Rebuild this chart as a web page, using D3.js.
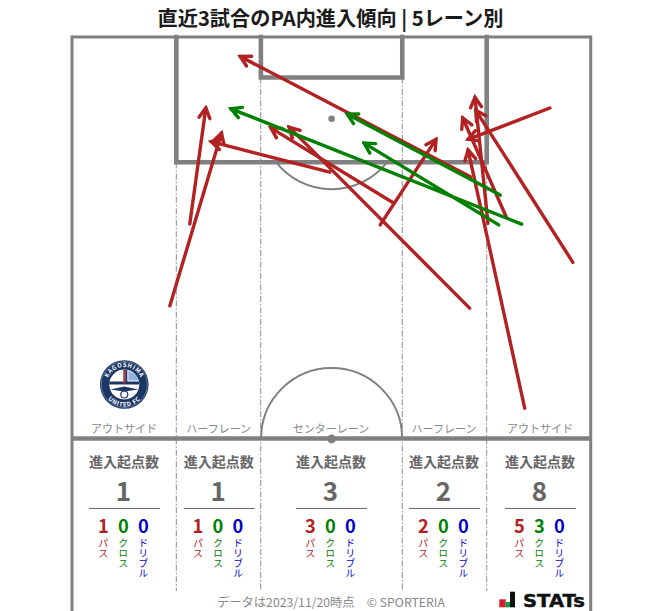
<!DOCTYPE html>
<html><head><meta charset="utf-8">
<script src="https://cdn.jsdelivr.net/npm/d3@7/dist/d3.min.js"></script>
<style>html,body{margin:0;padding:0;background:#fff}svg{display:block}text{font-family:"Noto Sans CJK JP","Noto Sans",sans-serif}</style>
</head><body><svg id="c" width="663" height="611"></svg>
<script>
const titleText = "直近3試合のPA内進入傾向 | 5レーン別";
const laneEdges = [0, 13.64, 24.68, 43.19, 54.23, 67.83];
const laneNames = ["アウトサイド", "ハーフレーン", "センターレーン", "ハーフレーン", "アウトサイド"];
const laneTotals = [1, 1, 3, 2, 8];
const lanePasses = [1, 1, 3, 2, 5];
const laneCrosses = [0, 0, 0, 0, 3];
const laneDribbles = [0, 0, 0, 0, 0];
// [startX, startY, endX, endY] in metres (x across the pitch, y from goal line)
const passArrows = [
  [12.8,35.2,19.55,12.57],[15.4,24.5,17.5,9.3],[33.7,17.7,18.2,13.7],[52.0,35.5,28.4,11.8],
  [42.0,21.7,26.0,11.9],[40.3,24.6,47.6,13.4],[52.1,18.3,22.0,2.55],[56.8,23.6,51.1,10.6],
  [54.4,24.4,52.7,7.9],[59.2,48.6,51.8,14.8],[65.5,29.5,52.8,9.6],[62.5,9.3,51.8,13.4]
];
const crossArrows = [[56.0,20.7,36.0,10.1],[58.8,24.5,20.8,9.4],[55.8,24.6,38.2,13.9]];

const laneTextX = [124, 218.7, 331, 444, 540];
const GREY="#808080", RED="#b22222", GREEN="#008000", BLUE="#0000cd", TXT="#666";
const x=d3.scaleLinear().domain([0,68]).range([72,592]);
const y=d3.scaleLinear().domain([0,52.5]).range([37,438]);
const svg=d3.select("#c");

svg.append("text").attr("x",330.5).attr("y",25.5).attr("text-anchor","middle")
  .attr("font-size",20.2).attr("font-weight",700).attr("fill","#1a1a1a").text(titleText);

const defs=svg.append("defs");
[["red",RED],["green",GREEN]].forEach(([id,c])=>{
  defs.append("marker").attr("id","h-"+id).attr("markerUnits","userSpaceOnUse")
   .attr("viewBox","-14 -9 17 18").attr("refX",0).attr("refY",0)
   .attr("markerWidth",17).attr("markerHeight",18).attr("orient","auto")
   .append("path").attr("d","M-10,-5.5L0,0L-10,5.5").attr("fill","none")
   .attr("stroke",c).attr("stroke-width",3.4).attr("stroke-linecap","round").attr("stroke-linejoin","miter");
});

// lane dividers
const g=svg.append("g");
[1,2,3,4].forEach(i=>{
  const top=(i===2||i===3)?y(5.3):y(16.4);
  g.append("line").attr("x1",x(laneEdges[i])).attr("x2",x(laneEdges[i])).attr("y1",top).attr("y2",591)
   .attr("stroke","#8c8c8c").attr("stroke-width",1).attr("stroke-dasharray","6 2 1.5 2");
});
// pitch
const line=(a,b,c,d,w)=>g.append("line").attr("x1",a).attr("y1",b).attr("x2",c).attr("y2",d).attr("stroke",GREY).attr("stroke-width",w);
line(x(0),y(0),x(67.83),y(0),3);
line(x(0),y(0)-1.5,x(0),611,3);
line(x(67.83),y(0)-1.5,x(67.83),611,3);
line(x(0),438.5,x(67.83),438.5,4.6);
g.append("path").attr("fill","none").attr("stroke",GREY).attr("stroke-width",4.6).attr("stroke-linecap","square")
  .attr("d",`M${x(13.64)},${y(0)}V${y(16.4)}H${x(54.23)}V${y(0)}`);
g.append("path").attr("fill","none").attr("stroke",GREY).attr("stroke-width",4.6).attr("stroke-linecap","square")
  .attr("d",`M${x(24.7)},${y(0)}V${y(5.3)}H${x(43.19)}V${y(0)}`);
const arc=d3.arc();
const R=70.5, mid=x(33.95);
g.append("path").attr("transform",`translate(${mid},438.5)`).attr("fill","none").attr("stroke",GREY).attr("stroke-width",2)
  .attr("d",arc({innerRadius:R,outerRadius:R,startAngle:-Math.PI/2,endAngle:Math.PI/2}));
g.append("path").attr("transform",`translate(${mid},${y(10.7)})`).attr("fill","none").attr("stroke",GREY).attr("stroke-width",2)
  .attr("d",arc({innerRadius:R,outerRadius:R,startAngle:Math.PI-0.89,endAngle:Math.PI+0.89}));
g.append("circle").attr("cx",mid).attr("cy",y(10.7)).attr("r",3.3).attr("fill",GREY);
g.append("circle").attr("cx",mid).attr("cy",439).attr("r",4.4).attr("fill",GREY);

// lanes text
laneNames.forEach((n,i)=>{
  const c=laneTextX[i];
  const t=(yy,s,fs,w,col,txt)=>svg.append("text").attr("x",s).attr("y",yy).attr("text-anchor","middle").attr("font-size",fs).attr("font-weight",w).attr("fill",col).text(txt);
  t(432.5,c,11,400,"#888",n);
  t(467,c,14,700,TXT,"進入起点数");
  t(500.7,c-.5,26,700,TXT,laneTotals[i]);
  svg.append("line").attr("x1",c-35).attr("x2",c+36).attr("y1",508.5).attr("y2",508.5).attr("stroke",TXT).attr("stroke-width",1);
  [[lanePasses,RED,"パス",-20],[laneCrosses,GREEN,"クロス",0],[laneDribbles,BLUE,"ドリブル",20]].forEach(([arr,col,lab,dx])=>{
    t(532.7,c+dx-.7,18.3,700,col,arr[i]);
    svg.append("text").attr("transform",`translate(${c+dx-.7},538.5)`).attr("style","writing-mode:vertical-rl;text-orientation:upright")
      .attr("font-size",10).attr("fill",col).text(lab);
  });
});

// arrows
const draw=(data,col,id)=>svg.append("g").selectAll("line").data(data).join("line")
  .attr("x1",d=>x(d[0])).attr("y1",d=>y(d[1])).attr("x2",d=>x(d[2])).attr("y2",d=>y(d[3]))
  .attr("stroke",col).attr("stroke-width",3.4).attr("stroke-linecap","round").attr("marker-end",`url(#h-${id})`);
draw(passArrows,RED,"red");
draw(crossArrows,GREEN,"green");

// club badge
const b=svg.append("g").attr("transform","translate(124.3,384.5)");
b.append("circle").attr("r",24.3).attr("fill","#1b3564");
b.append("circle").attr("r",23).attr("fill","none").attr("stroke","#9fb0c8").attr("stroke-width",.5);
b.append("circle").attr("r",15).attr("fill","#fff");
b.append("clipPath").attr("id","inner").append("circle").attr("r",15);
const bi=b.append("g").attr("clip-path","url(#inner)");
bi.append("rect").attr("x",-16).attr("y",-3).attr("width",32).attr("height",3).attr("fill","#1b3564");
bi.append("rect").attr("x",-1).attr("y",-16).attr("width",2).attr("height",15).attr("fill","#c8283c");
bi.append("rect").attr("x",1).attr("y",-16).attr("width",2).attr("height",15).attr("fill","#1b3564");
bi.append("path").attr("d","M4,-14L14,-8L14,-4L4,-4Z").attr("fill","#8fb3d9");
bi.append("path").attr("d","M-14,5L0,2L14,5L0,7Z").attr("fill","#1b3564");
bi.append("circle").attr("cy",10).attr("r",3.5).attr("fill","none").attr("stroke","#1b3564").attr("stroke-width",1.2);
defs.append("path").attr("id","arcTop").attr("d","M-17.5,0A17.5,17.5 0 0 1 17.5,0");
defs.append("path").attr("id","arcBot").attr("d","M-22,0A22,22 0 0 0 22,0");
b.append("text").attr("font-size",6).attr("font-weight",700).attr("fill","#fff").attr("text-anchor","middle").attr("letter-spacing",.6)
  .append("textPath").attr("href","#arcTop").attr("startOffset","50%").text("KAGOSHIMA");
b.append("text").attr("font-size",6).attr("font-weight",700).attr("fill","#fff").attr("text-anchor","middle").attr("letter-spacing",.6)
  .append("textPath").attr("href","#arcBot").attr("startOffset","50%").text("UNITED FC");

// footer
svg.append("text").attr("x",331).attr("y",607.3).attr("text-anchor","middle").attr("font-size",12.25).attr("fill","#888")
  .text("データは2023/11/20時点　© SPORTERIA");
const s=svg.append("g");
s.append("rect").attr("x",499.3).attr("y",599.3).attr("width",6.4).attr("height",8).attr("fill","#d0202a");
s.append("rect").attr("x",505.7).attr("y",602).attr("width",4.3).attr("height",5.3).attr("fill","#0a9a50");
s.append("rect").attr("x",510).attr("y",591.7).attr("width",5).attr("height",15.6).attr("fill","#111");
svg.append("text").attr("x",523).attr("y",606.7).attr("font-size",18.5).attr("font-weight",700).attr("fill","#111")
  .attr("stroke","#111").attr("stroke-width",.4)
  .attr("textLength",62).attr("lengthAdjust","spacingAndGlyphs")
  .attr("style",'font-family:"DejaVu Sans",sans-serif').text("STATs");
</script></body></html>
